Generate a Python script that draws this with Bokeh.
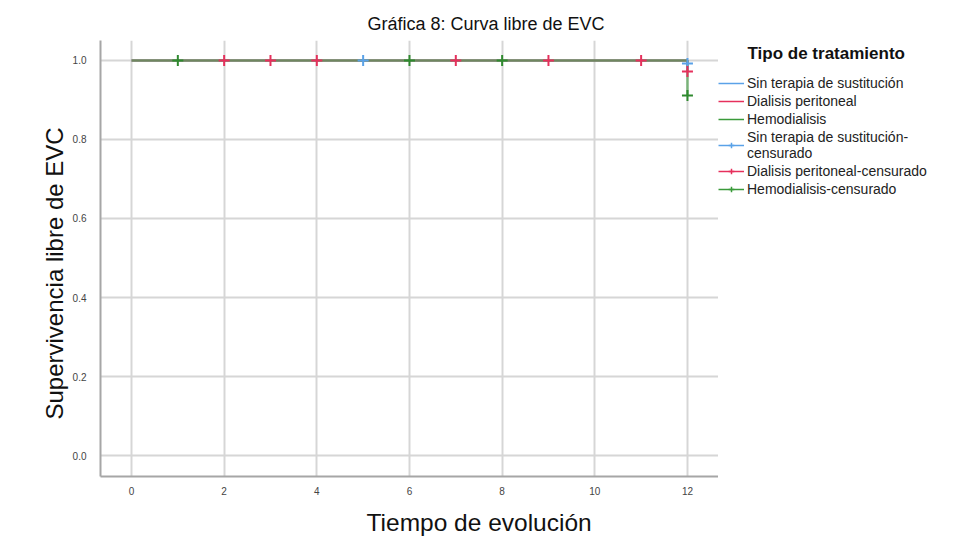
from bokeh.plotting import figure
from bokeh.layouts import row
from bokeh.models import (Range1d, FixedTicker, NumeralTickFormatter, Title, Label,
                          Legend, LegendItem)
from bokeh.embed import file_html
from bokeh.resources import INLINE

# ---- data ----
tiempo = [0, 12]
surv_sin = [1.0, 0.992]
surv_dp = [1.0, 0.972]
surv_hd = [1.0, 0.911]

cens_sin_t = [5, 12]
cens_sin_s = [1.0, 0.992]
cens_dp_t = [2, 3, 4, 7, 9, 11, 12]
cens_dp_s = [1.0, 1.0, 1.0, 1.0, 1.0, 1.0, 0.972]
cens_hd_t = [1, 6, 8, 12]
cens_hd_s = [1.0, 1.0, 1.0, 0.911]

x_ticks = [0, 2, 4, 6, 8, 10, 12]
y_ticks = [0.0, 0.2, 0.4, 0.6, 0.8, 1.0]

labels = ["Sin terapia de sustitución", "Dialisis peritoneal", "Hemodialisis",
          "Sin terapia de sustitución-\ncensurado", "Dialisis peritoneal-censurado",
          "Hemodialisis-censurado"]

c_blue = "#5aa2e8"
c_red = "#e6305c"
c_green = "#3a9a3a"
c_green_dark = "#2f8a2f"
FONT = "Liberation Sans"

# ---------------- main plot ----------------
p = figure(width=718, height=545, output_backend="svg", toolbar_location=None,
           x_range=Range1d(-0.669, 12.67), y_range=Range1d(-0.053, 1.0505),
           min_border_left=100, min_border_right=0, min_border_top=40,
           min_border_bottom=68)
p.outline_line_color = None

for ax in (p.xaxis[0], p.yaxis[0]):
    ax.axis_line_color = "#a6a6a6"
    ax.axis_line_width = 2
    ax.major_tick_line_color = None
    ax.minor_tick_line_color = None
    ax.major_label_text_font = FONT
    ax.major_label_text_font_size = "10px"
    ax.major_label_text_color = "#444444"
p.xaxis[0].ticker = FixedTicker(ticks=x_ticks)
p.yaxis[0].ticker = FixedTicker(ticks=y_ticks)
p.yaxis[0].formatter = NumeralTickFormatter(format="0.0")
p.xaxis[0].major_label_standoff = 4
p.yaxis[0].major_label_standoff = 8

p.xgrid[0].ticker = FixedTicker(ticks=x_ticks)
p.ygrid[0].ticker = FixedTicker(ticks=y_ticks)
for g in (p.xgrid[0], p.ygrid[0]):
    g.grid_line_color = "#d6d6d6"
    g.grid_line_width = 2

p.step(tiempo, surv_sin, mode="after", line_color=c_blue, line_width=2.5, line_alpha=0.55)
p.step(tiempo, surv_dp, mode="after", line_color=c_red, line_width=2.5, line_alpha=0.55)
p.step(tiempo, surv_hd, mode="after", line_color=c_green, line_width=2.5, line_alpha=0.6)

p.scatter(cens_sin_t, cens_sin_s, marker="cross", size=11, line_width=2, line_color=c_blue)
p.scatter(cens_dp_t, cens_dp_s, marker="cross", size=11, line_width=2, line_color=c_red)
p.scatter(cens_hd_t, cens_hd_s, marker="cross", size=11, line_width=2, line_color=c_green_dark)

p.title.text = "Gráfica 8: Curva libre de EVC"
p.title.text_font = FONT
p.title.text_font_size = "18px"
p.title.text_font_style = "normal"
p.title.text_color = "#111111"
p.title.align = "left"
p.title.offset = 267
p.title.standoff = 13

p.add_layout(Title(text="Tiempo de evolución", text_font=FONT, text_font_size="24.5px",
                   text_font_style="normal", text_color="#111111",
                   align="left", offset=266, standoff=19), "below")
p.add_layout(Title(text="Supervivencia libre de EVC", text_font=FONT, text_font_size="24px",
                   text_font_style="normal", text_color="#111111",
                   align="left", offset=57, standoff=3), "left")

# ---------------- legend panel ----------------
q = figure(width=240, height=545, output_backend="svg", toolbar_location=None,
           x_range=Range1d(0, 1), y_range=Range1d(0, 1),
           x_axis_location=None, y_axis_location=None,
           min_border_left=0, min_border_right=0, min_border_top=40, min_border_bottom=68)
q.outline_line_color = None
q.xgrid.visible = False
q.ygrid.visible = False

q.add_layout(Label(x=29, y=423, x_units="screen", y_units="screen",
                   text="Tipo de tratamiento", text_font=FONT, text_font_size="17px",
                   text_font_style="bold", text_color="#111111",
                   text_align="left", text_baseline="middle"))

hx = [-10, -9]
hy = [-10, -10]
r1 = q.line(hx, hy, line_color=c_blue, line_width=1.5)
r2 = q.line(hx, hy, line_color=c_red, line_width=1.5)
r3 = q.line(hx, hy, line_color=c_green, line_width=1.5)
r4a = q.line(hx, hy, line_color=c_blue, line_width=1.5)
r4b = q.scatter(hx, hy, marker="cross", size=16, line_width=1.5, line_color=c_blue)
r5a = q.line(hx, hy, line_color=c_red, line_width=1.5)
r5b = q.scatter(hx, hy, marker="cross", size=16, line_width=1.5, line_color=c_red)
r6a = q.line(hx, hy, line_color=c_green, line_width=1.5)
r6b = q.scatter(hx, hy, marker="cross", size=16, line_width=1.5, line_color=c_green)

items = [
    LegendItem(label=labels[0], renderers=[r1]),
    LegendItem(label=labels[1], renderers=[r2]),
    LegendItem(label=labels[2], renderers=[r3]),
    LegendItem(label=labels[3], renderers=[r4a, r4b]),
    LegendItem(label=labels[4], renderers=[r5a, r5b]),
    LegendItem(label=labels[5], renderers=[r6a, r6b]),
]
leg = Legend(items=items, location=(0, 279),
             label_text_font=FONT, label_text_font_size="14px", label_text_color="#222222",
             label_text_line_height=1.0,
             glyph_width=26, glyph_height=14, label_height=14, label_standoff=3,
             spacing=2, padding=0, margin=0, border_line_color=None,
             background_fill_alpha=0)
q.add_layout(leg, "center")

layout = row(p, q, spacing=0)
open("out.html", "w").write(file_html(layout, INLINE))
